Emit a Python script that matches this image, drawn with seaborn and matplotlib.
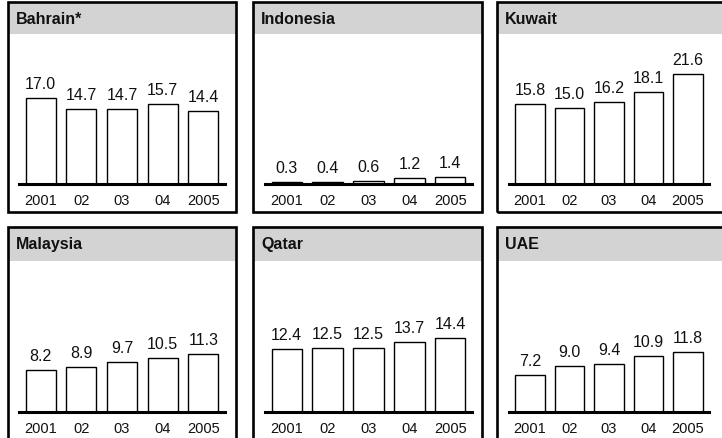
import matplotlib
matplotlib.use("Agg")
import matplotlib.pyplot as plt
from matplotlib.patches import Rectangle
import seaborn as sns
import pandas as pd

# Tick labels shared by every panel
years = ["2001", "02", "03", "04", "2005"]

# Panel titles and their yearly values
countries = ["Bahrain*", "Indonesia", "Kuwait", "Malaysia", "Qatar", "UAE"]
bahrain = [17.0, 14.7, 14.7, 15.7, 14.4]
indonesia = [0.3, 0.4, 0.6, 1.2, 1.4]
kuwait = [15.8, 15.0, 16.2, 18.1, 21.6]
malaysia = [8.2, 8.9, 9.7, 10.5, 11.3]
qatar = [12.4, 12.5, 12.5, 13.7, 14.4]
uae = [7.2, 9.0, 9.4, 10.9, 11.8]
series = [bahrain, indonesia, kuwait, malaysia, qatar, uae]

sns.set_theme(style="white")
plt.rcParams["font.family"] = ["Liberation Sans", "DejaVu Sans"]

W, H = 722, 439
fig = plt.figure(figsize=(W / 100, H / 100), dpi=100)
fig.patch.set_facecolor("white")


def fx(px):
    return px / W


def fy(py):
    return 1 - py / H


# Panel frame geometry (pixels)
panel_left = [7.5, 253.3, 496.7]
panel_right = [235.7, 482.3, 726.0]
panel_top = [3.3, 227.5]
panel_bottom = [213.0, 452.0]
header_bottom = [35.0, 261.7]
axes_x = [(19, 225), (265, 472), (509, 709)]
axes_bottom = [185.0, 413.3]

HEADER_GRAY = "#d3d3d3"
YMAX = 29.5

for k, (name, vals) in enumerate(zip(countries, series)):
    r, c = divmod(k, 3)
    # header band and frame
    fig.add_artist(Rectangle((fx(panel_left[c]), fy(header_bottom[r])),
                             fx(panel_right[c] - panel_left[c]),
                             (header_bottom[r] - panel_top[r]) / H,
                             transform=fig.transFigure, facecolor=HEADER_GRAY,
                             edgecolor="none", zorder=0))
    fig.add_artist(Rectangle((fx(panel_left[c]), fy(panel_bottom[r])),
                             fx(panel_right[c] - panel_left[c]),
                             (panel_bottom[r] - panel_top[r]) / H,
                             transform=fig.transFigure, facecolor="none",
                             edgecolor="black", linewidth=1.9, zorder=5))
    fig.text(fx(panel_left[c] + 8), fy((panel_top[r] + header_bottom[r]) / 2),
             name, ha="left", va="center", fontsize=11.5, fontweight="bold",
             color="#111111")

    x0, x1 = axes_x[c]
    ax = fig.add_axes([fx(x0), fy(axes_bottom[r]), fx(x1 - x0),
                       (axes_bottom[r] - header_bottom[r]) / H])
    ax.patch.set_alpha(0)
    df = pd.DataFrame({"year": years, "value": vals})
    sns.barplot(data=df, x="year", y="value", order=years, ax=ax,
                color="white", edgecolor="black", linewidth=1.0,
                width=0.74, saturation=1)
    for i, v in enumerate(vals):
        ax.annotate(f"{v:.1f}", xy=(i, v), xytext=(0, 7.2),
                    textcoords="offset points", ha="center", va="baseline",
                    fontsize=11.5, color="#111111")
    ax.set_xlim(-0.53, 4.53)
    ax.set_ylim(0, YMAX)
    ax.set_xlabel("")
    ax.set_ylabel("")
    ax.set_yticks([])
    for side in ("top", "left", "right"):
        ax.spines[side].set_visible(False)
    ax.spines["bottom"].set_linewidth(2.2)
    ax.spines["bottom"].set_color("black")
    ax.tick_params(axis="x", length=0, pad=6.5, labelsize=10.5,
                   labelcolor="#111111")

fig.savefig("out.png", dpi=100)
